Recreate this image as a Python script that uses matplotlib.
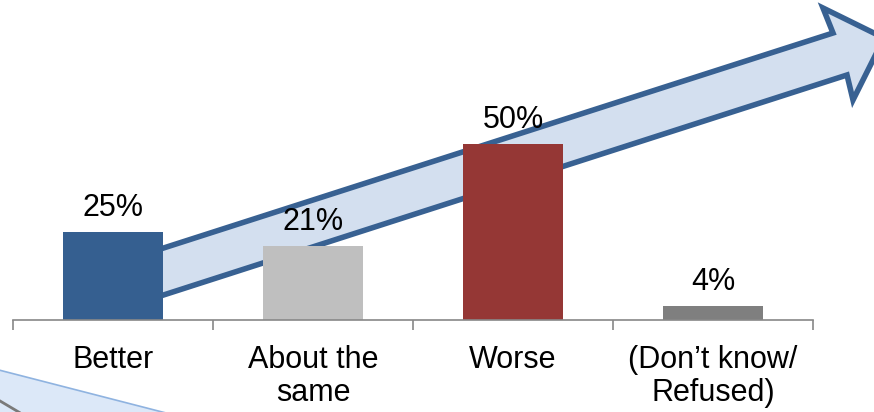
import matplotlib.pyplot as plt
from matplotlib.patches import Polygon

plt.rcParams['font.family'] = ['Liberation Sans', 'DejaVu Sans']

categories = ['Better', 'About the\nsame', 'Worse', '(Don\u2019t know/\nRefused)']
values = [25, 21, 50, 4]
bar_colors = ['#355f90', '#bfbfbf', '#953735', '#7f7f7f']

W, H = 874, 412
fig = plt.figure(figsize=(W / 100, H / 100), dpi=100)
ax = fig.add_axes([13 / W, (H - 320) / H, 800 / W, 320 / H])

def px(points):
    # pixel coords (y down) -> figure fraction
    return [(x / W, 1 - y / H) for x, y in points]

# big trend arrow behind the bars
arrow = [(120, 262), (833, 33), (823, 8), (884, 38), (853, 100), (847, 75), (120, 309)]
ax.add_patch(Polygon(px(arrow), closed=True, transform=fig.transFigure,
                     facecolor='#d3dfef', edgecolor='#386192', linewidth=4,
                     joinstyle='miter', zorder=1, clip_on=False))

# partial arrow in the lower left corner
corner = [(-5, 369), (170, 414), (-5, 414)]
fig.patches.append(Polygon(px(corner), closed=True, transform=fig.transFigure,
                           facecolor='#dce8f8', edgecolor='#8fb3e0', linewidth=1.2))
fig.patches.append(Polygon(px([(-5, 398), (22, 414)]), closed=False, transform=fig.transFigure,
                           fill=False, edgecolor='#7a7a7a', linewidth=2))

x = range(len(categories))
bars = ax.bar(x, values, width=0.5, color=bar_colors, zorder=2)
for b, v in zip(bars, values):
    ax.annotate(f'{v}%', (b.get_x() + b.get_width() / 2, b.get_height()),
                xytext=(0, 11.5), textcoords='offset points', ha='center', va='baseline',
                fontsize=22, zorder=3)

ax.set_xlim(-0.5, len(categories) - 0.5)
ax.set_ylim(0, 320 / 3.52)
for s in ['top', 'left', 'right']:
    ax.spines[s].set_visible(False)
ax.spines['bottom'].set_color('#888888')
ax.spines['bottom'].set_linewidth(1.2)
ax.set_yticks([])
ax.set_xticks([i - 0.5 for i in range(len(categories) + 1)])
ax.set_xticklabels([])
ax.tick_params(axis='x', which='major', direction='out', length=7, width=1.2, color='#888888')
ax.set_xticks(list(x), minor=True)
ax.set_xticklabels(categories, minor=True, fontsize=22, linespacing=1.15)
ax.tick_params(axis='x', which='minor', length=0, pad=18)
ax.patch.set_alpha(0)

plt.savefig('out.png', dpi=100)
